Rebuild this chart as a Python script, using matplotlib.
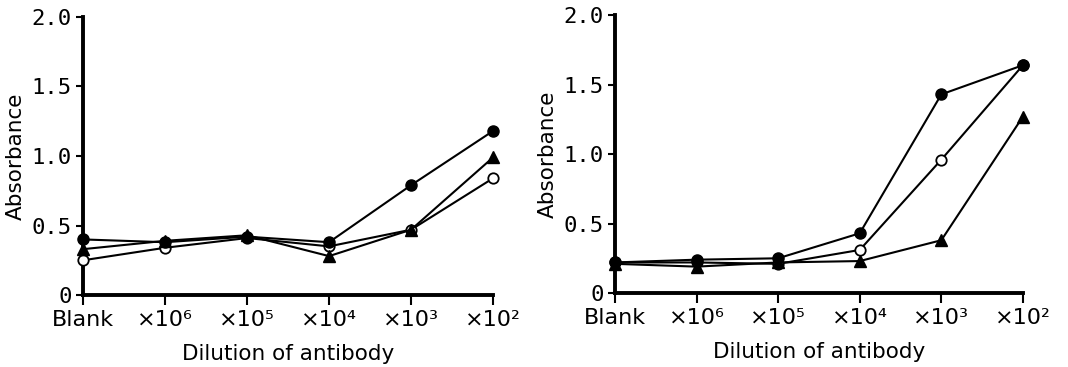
import numpy as np
import matplotlib.pyplot as plt

# data
dilutions = ['Blank', '×10⁶', '×10⁵', '×10⁴', '×10³', '×10²']
x = np.arange(len(dilutions))

left_filled = [0.40, 0.38, 0.42, 0.38, 0.79, 1.18]
left_open = [0.25, 0.34, 0.41, 0.35, 0.47, 0.84]
left_tri = [0.33, 0.39, 0.43, 0.28, 0.47, 0.99]

right_filled = [0.22, 0.24, 0.25, 0.43, 1.43, 1.64]
right_open = [0.22, 0.22, 0.21, 0.31, 0.96, 1.64]
right_tri = [0.21, 0.19, 0.22, 0.23, 0.38, 1.27]

yticks = [0, 0.5, 1.0, 1.5, 2.0]
ytick_labels = ['0', '0.5', '1.0', '1.5', '2.0']

plt.rcParams['font.family'] = ['DejaVu Sans']

fig = plt.figure(figsize=(10.68, 3.67), dpi=100)
ax1 = fig.add_axes([0.0777, 0.196, 0.384, 0.758])
ax2 = fig.add_axes([0.5758, 0.2016, 0.382, 0.757])


def draw(ax, filled, opened, tri):
    ax.plot(x, opened, '-o', color='black', mfc='white', mew=1.3, lw=1.5, ms=7.5,
            clip_on=False, zorder=3)
    ax.plot(x, tri, '-^', color='black', lw=1.5, ms=8, clip_on=False, zorder=4)
    ax.plot(x, filled, '-o', color='black', lw=1.5, ms=8, clip_on=False, zorder=5)
    ax.set_xlim(0, 5)
    ax.set_ylim(0, 2.0)
    ax.spines['top'].set_visible(False)
    ax.spines['right'].set_visible(False)
    ax.spines['left'].set_linewidth(2.8)
    ax.spines['bottom'].set_linewidth(2.8)
    ax.set_xticks(x)
    ax.set_xticklabels(dilutions, fontsize=16)
    ax.set_yticks(yticks)
    ax.set_yticklabels(ytick_labels, fontsize=16, family='DejaVu Sans Mono')
    ax.tick_params(axis='x', direction='out', length=7, width=1.5, pad=4)
    ax.tick_params(axis='y', direction='out', length=5, width=1.5, pad=3)
    ax.set_xlabel('Dilution of antibody', fontsize=15.5, labelpad=10)
    ax.set_ylabel('Absorbance', fontsize=15.5, labelpad=4)


draw(ax1, left_filled, left_open, left_tri)
draw(ax2, right_filled, right_open, right_tri)

fig.savefig('out.png', dpi=100)
